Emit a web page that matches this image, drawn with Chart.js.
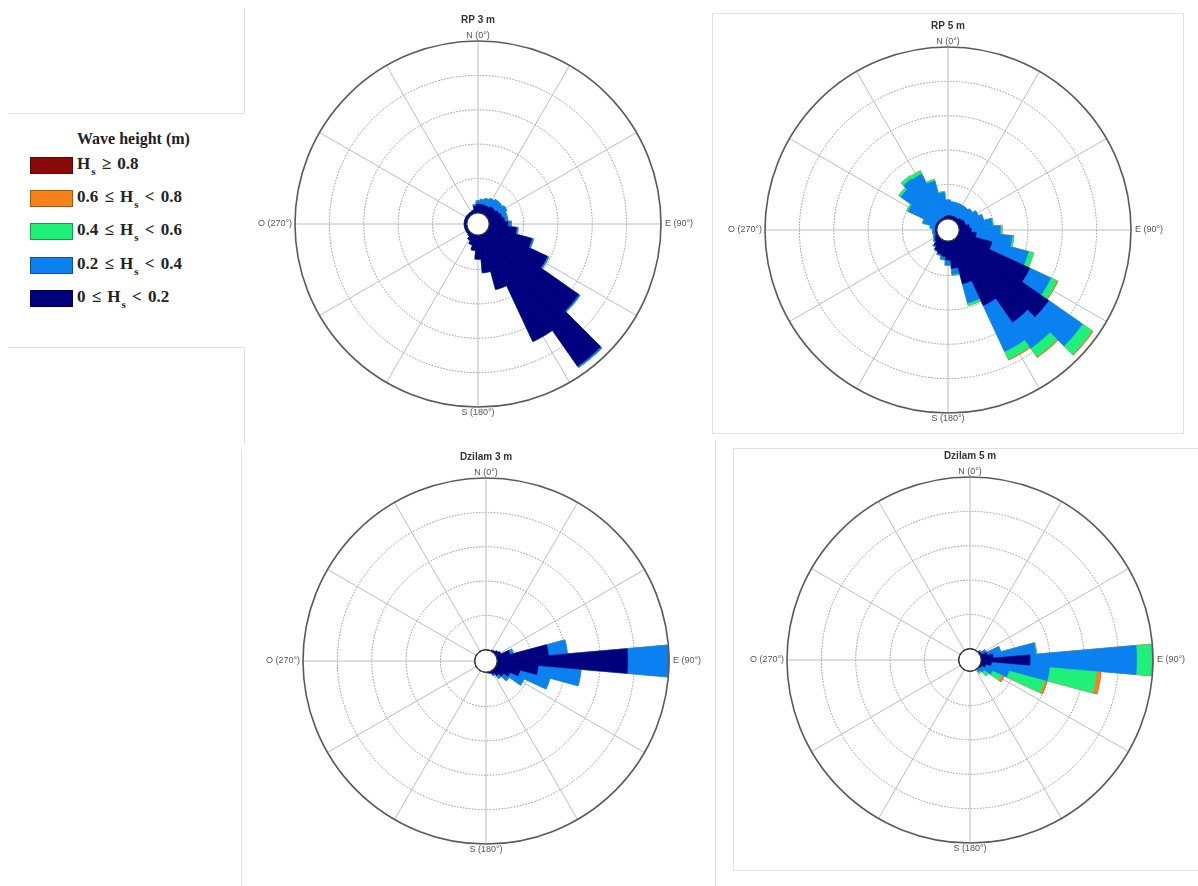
<!DOCTYPE html>
<html>
<head>
<meta charset="utf-8">
<script src="https://cdn.jsdelivr.net/npm/chart.js@4.4.0/dist/chart.umd.min.js"></script>
<style>
  body { margin: 0; background: #fff; }
  #page { position: relative; width: 1198px; height: 886px; overflow: hidden; background: #fff; }
  canvas.rose { position: absolute; }
  .frame { position: absolute; border: 0 solid #e2e2e2; box-sizing: border-box; }
  #legend { position: absolute; left: 0; top: 0; width: 245px; height: 350px;
            font-family: "Liberation Serif", "DejaVu Serif", serif; font-weight: bold; color: #222; }
  #legend .lg-title { position: absolute; left: 77px; top: 131px; font-size: 16px; line-height: 16px; white-space: nowrap; }
  #legend .sw { position: absolute; left: 30px; width: 43px; height: 17px; box-sizing: border-box;
                border: 1px solid rgba(0,0,0,0.35); }
  #legend .txt { position: absolute; left: 77px; font-size: 17px; line-height: 17px; white-space: nowrap; word-spacing: 2px; }
  #legend sub { font-size: 11px; vertical-align: -6px; line-height: 0; margin-left: 1px; }
</style>
</head>
<body>
<div id="page">
  <!-- faint panel frames from the original composite -->
  <div class="frame" style="left:244px;top:8px;height:105px;border-left-width:1px"></div>
  <div class="frame" style="left:8px;top:113px;width:237px;border-top-width:1px"></div>
  <div class="frame" style="left:8px;top:347px;width:237px;border-top-width:1px"></div>
  <div class="frame" style="left:244px;top:347px;height:98px;border-left-width:1px"></div>
  <div class="frame" style="left:712px;top:13px;width:472px;height:421px;border-width:1px"></div>
  <div class="frame" style="left:733px;top:448px;width:470px;height:423px;border-width:1px"></div>
  <div class="frame" style="left:715px;top:440px;height:446px;border-left-width:1px"></div>
  <div class="frame" style="left:241px;top:450px;height:436px;border-left-width:1px"></div>

  <div id="legend"></div>

  <canvas id="rp3" class="rose" width="460" height="440" style="left:248px;top:0px"></canvas>
  <canvas id="rp5" class="rose" width="460" height="440" style="left:718px;top:0px"></canvas>
  <canvas id="dz3" class="rose" width="460" height="440" style="left:256px;top:446px"></canvas>
  <canvas id="dz5" class="rose" width="460" height="440" style="left:740px;top:446px"></canvas>
</div>

<script>
// direction bins (centre of each 10° sector)
const directions = [0, 10, 20, 30, 40, 50, 60, 70, 80, 90, 100, 110, 120, 130, 140, 150, 160, 170,
                    180, 190, 200, 210, 220, 230, 240, 250, 260, 270, 280, 290, 300, 310, 320, 330, 340, 350];

// wave height classes, lowest first
const classLabels = ['0 ≤ Hs < 0.2', '0.2 ≤ Hs < 0.4', '0.4 ≤ Hs < 0.6', '0.6 ≤ Hs < 0.8', 'Hs ≥ 0.8'];
const classLegend = ['0 ≤ H<sub>s</sub> &lt; 0.2', '0.2 ≤ H<sub>s</sub> &lt; 0.4', '0.4 ≤ H<sub>s</sub> &lt; 0.6',
                     '0.6 ≤ H<sub>s</sub> &lt; 0.8', 'H<sub>s</sub> ≥ 0.8'];
const classColors = ['#00007e', '#0b80f0', '#1ef07a', '#f7821b', '#8a0a0a'];

// frequency (%) per direction bin and class
const rp3Hs0 = [1.0, 1.0, 1.0, 1.0, 1.2, 1.2, 1.4, 1.6, 1.8, 2.2, 3.2, 5.2, 7.6, 13.0, 18.9, 13.8, 6.6, 4.4,
                2.8, 1.8, 1.2, 0.8, 0.4, 0.3, 0.3, 0.3, 0.3, 0.3, 0.3, 0.3, 0.3, 0.3, 0.3, 0.3, 0.4, 0.8];
const rp3Hs2 = [0.4, 0.6, 0.8, 1.0, 1.0, 1.0, 1.0, 0.6, 0.4, 0.4, 0.2, 0.2, 0.2, 0.2, 0.2, 0, 0, 0,
                0, 0, 0, 0, 0, 0, 0, 0, 0, 0, 0, 0, 0, 0, 0, 0, 0, 0.2];
const rp3Hs4 = [0, 0, 0, 0, 0, 0, 0, 0, 0, 0, 0, 0, 0, 0, 0, 0, 0, 0,
                0, 0, 0, 0, 0, 0, 0, 0, 0, 0, 0, 0, 0, 0, 0, 0, 0, 0];
const rp3Hs6 = [0, 0, 0, 0, 0, 0, 0, 0, 0, 0, 0, 0, 0, 0, 0, 0, 0, 0,
                0, 0, 0, 0, 0, 0, 0, 0, 0, 0, 0, 0, 0, 0, 0, 0, 0, 0];
const rp3Hs8 = [0, 0, 0, 0, 0, 0, 0, 0, 0, 0, 0, 0, 0, 0, 0, 0, 0, 0,
                0, 0, 0, 0, 0, 0, 0, 0, 0, 0, 0, 0, 0, 0, 0, 0, 0, 0];

const rp5Hs0 = [0.4, 0.4, 0.4, 0.4, 0.4, 0.6, 0.8, 0.8, 1.2, 1.4, 2.0, 4.0, 9.2, 13.0, 11.8, 8.4, 5.2, 3.2,
                2.2, 1.8, 1.6, 1.4, 1.0, 0.6, 0.4, 0.2, 0.2, 0.2, 0.2, 0.2, 0.2, 0.2, 0.2, 0.2, 0.2, 0.3];
const rp5Hs2 = [1.8, 1.6, 1.6, 1.6, 1.6, 1.6, 1.8, 2.2, 2.7, 3.4, 4.2, 4.4, 2.7, 4.8, 3.7, 5.9, 2.3, 0.7,
                0.6, 0.4, 0.2, 0.1, 0.2, 0.2, 0.2, 0.3, 0.3, 0.3, 0.6, 1.5, 3.6, 5.2, 5.8, 5.7, 4.4, 2.8];
const rp5Hs4 = [0, 0, 0, 0, 0, 0, 0, 0, 0.1, 0.2, 0.2, 0.6, 0.8, 1.4, 1.2, 1.0, 0.3, 0.1,
                0, 0, 0, 0, 0, 0, 0, 0, 0, 0, 0, 0.1, 0.2, 0.3, 0.4, 0.4, 0.2, 0.1];
const rp5Hs6 = [0, 0, 0, 0, 0, 0, 0, 0, 0, 0, 0, 0, 0.1, 0.1, 0.1, 0.1, 0, 0,
                0, 0, 0, 0, 0, 0, 0, 0, 0, 0, 0, 0, 0, 0, 0, 0, 0, 0];
const rp5Hs8 = [0, 0, 0, 0, 0, 0, 0, 0, 0, 0, 0, 0, 0, 0, 0, 0, 0, 0,
                0, 0, 0, 0, 0, 0, 0, 0, 0, 0, 0, 0, 0, 0, 0, 0, 0, 0];

const dz3Hs0 = [0, 0, 0, 0.1, 0.2, 0.4, 0.6, 1.6, 6.0, 15.2, 4.8, 2.8, 1.8, 1.2, 0.8, 0.4, 0.2, 0.1,
                0, 0, 0, 0, 0, 0, 0, 0, 0, 0, 0, 0, 0, 0, 0, 0, 0, 0];
const dz3Hs2 = [0, 0, 0, 0, 0, 0, 0, 0.4, 2.2, 4.8, 5.0, 3.6, 1.8, 0.8, 0.4, 0.2, 0, 0,
                0, 0, 0, 0, 0, 0, 0, 0, 0, 0, 0, 0, 0, 0, 0, 0, 0, 0];
const dz3Hs4 = [0, 0, 0, 0, 0, 0, 0, 0, 0, 0, 0, 0, 0, 0, 0, 0, 0, 0,
                0, 0, 0, 0, 0, 0, 0, 0, 0, 0, 0, 0, 0, 0, 0, 0, 0, 0];
const dz3Hs6 = [0, 0, 0, 0, 0, 0, 0, 0, 0, 0, 0, 0, 0, 0, 0, 0, 0, 0,
                0, 0, 0, 0, 0, 0, 0, 0, 0, 0, 0, 0, 0, 0, 0, 0, 0, 0];
const dz3Hs8 = [0, 0, 0, 0, 0, 0, 0, 0, 0, 0, 0, 0, 0, 0, 0, 0, 0, 0,
                0, 0, 0, 0, 0, 0, 0, 0, 0, 0, 0, 0, 0, 0, 0, 0, 0, 0];

const dz5Hs0 = [0, 0, 0, 0, 0, 0.1, 0.2, 0.8, 1.4, 5.7, 1.2, 0.6, 0.2, 0.1, 0, 0, 0, 0,
                0, 0, 0, 0, 0, 0, 0, 0, 0, 0, 0, 0, 0, 0, 0, 0, 0, 0];
const dz5Hs2 = [0, 0, 0, 0, 0, 0.2, 0.6, 1.6, 5.0, 12.4, 6.8, 2.8, 1.4, 0.6, 0.4, 0, 0, 0,
                0, 0, 0, 0, 0, 0, 0, 0, 0, 0, 0, 0, 0, 0, 0, 0, 0, 0];
const dz5Hs4 = [0, 0, 0, 0, 0, 0, 0, 0, 0.1, 1.8, 5.5, 4.3, 1.2, 0.6, 0.2, 0, 0, 0,
                0, 0, 0, 0, 0, 0, 0, 0, 0, 0, 0, 0, 0, 0, 0, 0, 0, 0];
const dz5Hs6 = [0, 0, 0, 0, 0, 0, 0, 0, 0, 0.1, 0.5, 0.3, 0.3, 0, 0, 0, 0, 0,
                0, 0, 0, 0, 0, 0, 0, 0, 0, 0, 0, 0, 0, 0, 0, 0, 0, 0];
const dz5Hs8 = [0, 0, 0, 0, 0, 0, 0, 0, 0, 0, 0, 0, 0, 0, 0, 0, 0, 0,
                0, 0, 0, 0, 0, 0, 0, 0, 0, 0, 0, 0, 0, 0, 0, 0, 0, 0];

// radial axis: rings every 4 %, outer circle at 20 %
const ringTicks = [0, 4, 8, 12, 16, 20];
const R_MAX = 20;
const R_HOLE = -1.3;   // empty disc in the centre, as in the original rose

const roseDecor = {
    id: 'roseDecor',
    beforeDatasetsDraw(chart) {
        const s = chart.scales.r;
        const ctx = chart.ctx;
        ctx.save();
        ctx.strokeStyle = '#bdbdbd';
        ctx.lineWidth = 1;
        for (let a = 0; a < 360; a += 30) {
            const t = a * Math.PI / 180;
            ctx.beginPath();
            ctx.moveTo(s.xCenter, s.yCenter);
            ctx.lineTo(s.xCenter + s.drawingArea * Math.sin(t), s.yCenter - s.drawingArea * Math.cos(t));
            ctx.stroke();
        }
        ctx.restore();
    },
    afterDatasetsDraw(chart, args, opts) {
        const s = chart.scales.r;
        const ctx = chart.ctx;
        const cx = s.xCenter, cy = s.yCenter, R = s.drawingArea;
        ctx.save();
        // centre hole
        const h = s.getDistanceFromCenterForValue(0);
        ctx.beginPath();
        ctx.arc(cx, cy, h, 0, Math.PI * 2);
        ctx.fillStyle = '#fff';
        ctx.fill();
        ctx.strokeStyle = '#333';
        ctx.lineWidth = 1.2;
        ctx.stroke();
        // outer circle
        ctx.beginPath();
        ctx.arc(cx, cy, R, 0, Math.PI * 2);
        ctx.strokeStyle = '#5a5a5a';
        ctx.lineWidth = 1.6;
        ctx.stroke();
        // direction labels
        ctx.fillStyle = '#555';
        ctx.font = '9px "Liberation Sans", Arial, sans-serif';
        ctx.textAlign = 'center';
        ctx.textBaseline = 'middle';
        ctx.fillText('N (0°)', cx, cy - R - 5);
        ctx.fillText('S (180°)', cx, cy + R + 6);
        ctx.textAlign = 'left';
        ctx.fillText('E (90°)', cx + R + 4, cy);
        ctx.textAlign = 'right';
        ctx.fillText('O (270°)', cx - R - 3, cy);
        // panel title
        ctx.fillStyle = '#333';
        ctx.font = 'bold 10px "Liberation Sans", Arial, sans-serif';
        ctx.textAlign = 'center';
        ctx.fillText(opts.title, cx, cy - R - 21);
        ctx.restore();
    }
};

function makeRose(id, title, padTop, series) {
    let running = directions.map(() => 0);
    const datasets = series.map((values, k) => {
        running = running.map((v, i) => v + values[i]);
        return {
            label: classLabels[k],
            data: running.slice(),
            backgroundColor: classColors[k],
            borderColor: classColors[k],
            borderWidth: 0.5
        };
    });

    new Chart(document.getElementById(id), {
        type: 'polarArea',
        data: { labels: directions.map(d => d + '°'), datasets: datasets },
        options: {
            responsive: false,
            animation: false,
            events: [],
            layout: { padding: { left: 47, right: 47, top: padTop, bottom: 440 - padTop - 366 } },
            scales: {
                r: {
                    min: R_HOLE,
                    max: R_MAX,
                    startAngle: -5,
                    afterBuildTicks: scale => { scale.ticks = [R_HOLE].concat(ringTicks).map(v => ({ value: v })); },
                    ticks: { display: false },
                    pointLabels: { display: false },
                    angleLines: { display: false },
                    grid: {
                        circular: true,
                        color: ctx => (ctx.tick && ctx.tick.value > 0 && ctx.tick.value < R_MAX) ? '#8f8f8f' : 'rgba(0,0,0,0)',
                        lineWidth: 1
                    },
                    border: { dash: [1.5, 1.5] }
                }
            },
            plugins: {
                legend: { display: false },
                tooltip: { enabled: false },
                roseDecor: { title: title }
            }
        },
        plugins: [roseDecor]
    });
}

makeRose('rp3', 'RP 3 m', 41, [rp3Hs0, rp3Hs2, rp3Hs4, rp3Hs6, rp3Hs8]);
makeRose('rp5', 'RP 5 m', 47, [rp5Hs0, rp5Hs2, rp5Hs4, rp5Hs6, rp5Hs8]);
makeRose('dz3', 'Dzilam 3 m', 32, [dz3Hs0, dz3Hs2, dz3Hs4, dz3Hs6, dz3Hs8]);
makeRose('dz5', 'Dzilam 5 m', 31, [dz5Hs0, dz5Hs2, dz5Hs4, dz5Hs6, dz5Hs8]);

// shared legend, highest class on top
const legend = document.getElementById('legend');
legend.innerHTML = '<div class="lg-title">Wave height (m)</div>';
const rowTops = [157, 190, 223, 257, 290];
for (let r = 0; r < 5; r++) {
    const k = 4 - r;
    legend.innerHTML += `<div class="sw" style="top:${rowTops[r]}px;background:${classColors[k]}"></div>` +
                        `<div class="txt" style="top:${rowTops[r] - 2}px">${classLegend[k]}</div>`;
}
</script>
</body>
</html>
